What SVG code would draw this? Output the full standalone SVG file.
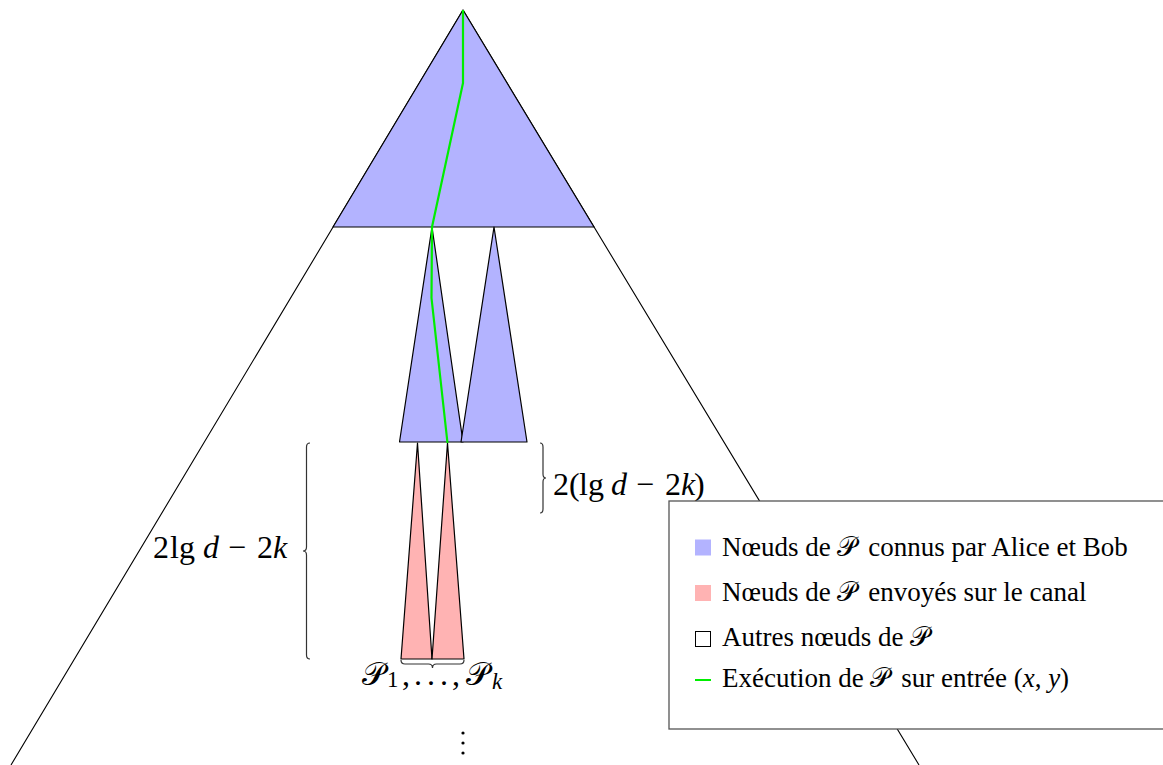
<svg xmlns="http://www.w3.org/2000/svg" width="1163" height="765" viewBox="0 0 1163 765">
<style>
.blue{fill:#b3b3ff;stroke:#000;stroke-width:1.2;stroke-linejoin:round}
.pink{fill:#ffb3b3;stroke:#000;stroke-width:1.2;stroke-linejoin:round}
.line{fill:none;stroke:#000;stroke-width:1.1}
.brace{fill:none;stroke:#333;stroke-width:1.2}
.exec{fill:none;stroke:#00ee00;stroke-width:2.2;stroke-linejoin:round}
text{font-family:"Liberation Serif","DejaVu Serif",serif;fill:#000}
.lg{font-size:27px}
.math{font-size:32px}
.it{font-style:italic}
</style>
<rect width="1163" height="765" fill="#fff"/>
<g id="outer-tree">
<path class="line" d="M463,10 L11,765 M463,10 L919,765"/>
</g>
<g id="top-tree">
<polygon class="blue" points="463,10 333,227 594,227"/>
</g>
<g id="subtree-left">
<polygon class="blue" points="432,227 399.5,442 463,442"/>
</g>
<g id="subtree-right">
<polygon class="blue" points="494,227 461,442 527,442"/>
</g>
<g id="pink-1">
<polygon class="pink" points="417.5,443 401,659 432,659"/>
</g>
<g id="pink-k">
<polygon class="pink" points="447.5,443 432,659 464,659"/>
</g>
<g id="connectors">
<path class="exec" d="M463,10 L463,83 L432,227 L431.5,298 L447.5,443"/>
</g>
<g id="braces">
<path class="brace" d="M310,443 Q306.5,443 306.5,447 L306.5,547 Q306.5,551 303,551 Q306.5,551 306.5,555 L306.5,655 Q306.5,659 310,659"/>
<path class="brace" d="M540,443 Q543,443 543,447 L543,474 Q543,478 546,478 Q543,478 543,482 L543,509 Q543,513 540,513"/>
<path class="brace" d="M401,660 Q401,664 405,664 L428.5,664 Q432.5,664 432.5,668 Q432.5,664 436.5,664 L460,664 Q464,664 464,660"/>
</g>
<g id="labels">
<text class="math" y="558"><tspan x="153">2</tspan><tspan x="170">lg</tspan><tspan class="it" x="203">d</tspan><tspan x="228">−</tspan><tspan x="257">2</tspan><tspan class="it" x="273">k</tspan></text>
<text class="math" y="495"><tspan x="553">2</tspan><tspan x="569">(</tspan><tspan x="579">lg</tspan><tspan class="it" x="611">d</tspan><tspan x="636">−</tspan><tspan x="665">2</tspan><tspan class="it" x="681">k</tspan><tspan x="694">)</tspan></text>
<text class="math" y="685"><tspan x="362">𝒫</tspan><tspan x="387" font-size="23" y="687">1</tspan><tspan x="402" y="685">,</tspan><tspan x="414">.</tspan><tspan x="427">.</tspan><tspan x="440">.</tspan><tspan x="452">,</tspan><tspan x="466">𝒫</tspan><tspan class="it" x="492" font-size="23" y="689">k</tspan></text>
<circle cx="463" cy="733" r="1.6"/>
<circle cx="463" cy="743" r="1.6"/>
<circle cx="463" cy="753" r="1.6"/>
</g>
<g id="legend">
<rect x="669" y="501" width="510" height="228" fill="#fff" stroke="#555" stroke-width="1.3"/>
<rect x="695" y="539.5" width="16" height="16" fill="#b3b3ff"/>
<text class="lg" x="722" y="556">Nœuds de 𝒫 <tspan dx="5">connus par Alice et Bob</tspan></text>
<rect x="695" y="585" width="16" height="16" fill="#ffb3b3"/>
<text class="lg" x="722" y="601">Nœuds de 𝒫 <tspan dx="5">envoyés sur le canal</tspan></text>
<rect x="695.5" y="631.5" width="15" height="15" fill="#fff" stroke="#000" stroke-width="1"/>
<text class="lg" x="722" y="646">Autres nœuds de 𝒫</text>
<line x1="695" y1="680" x2="711" y2="680" stroke="#00ee00" stroke-width="2"/>
<text class="lg" x="722" y="687">Exécution de 𝒫 <tspan dx="5">sur entrée (</tspan><tspan class="it">x</tspan>, <tspan class="it">y</tspan>)</text>
</g>
</svg>
